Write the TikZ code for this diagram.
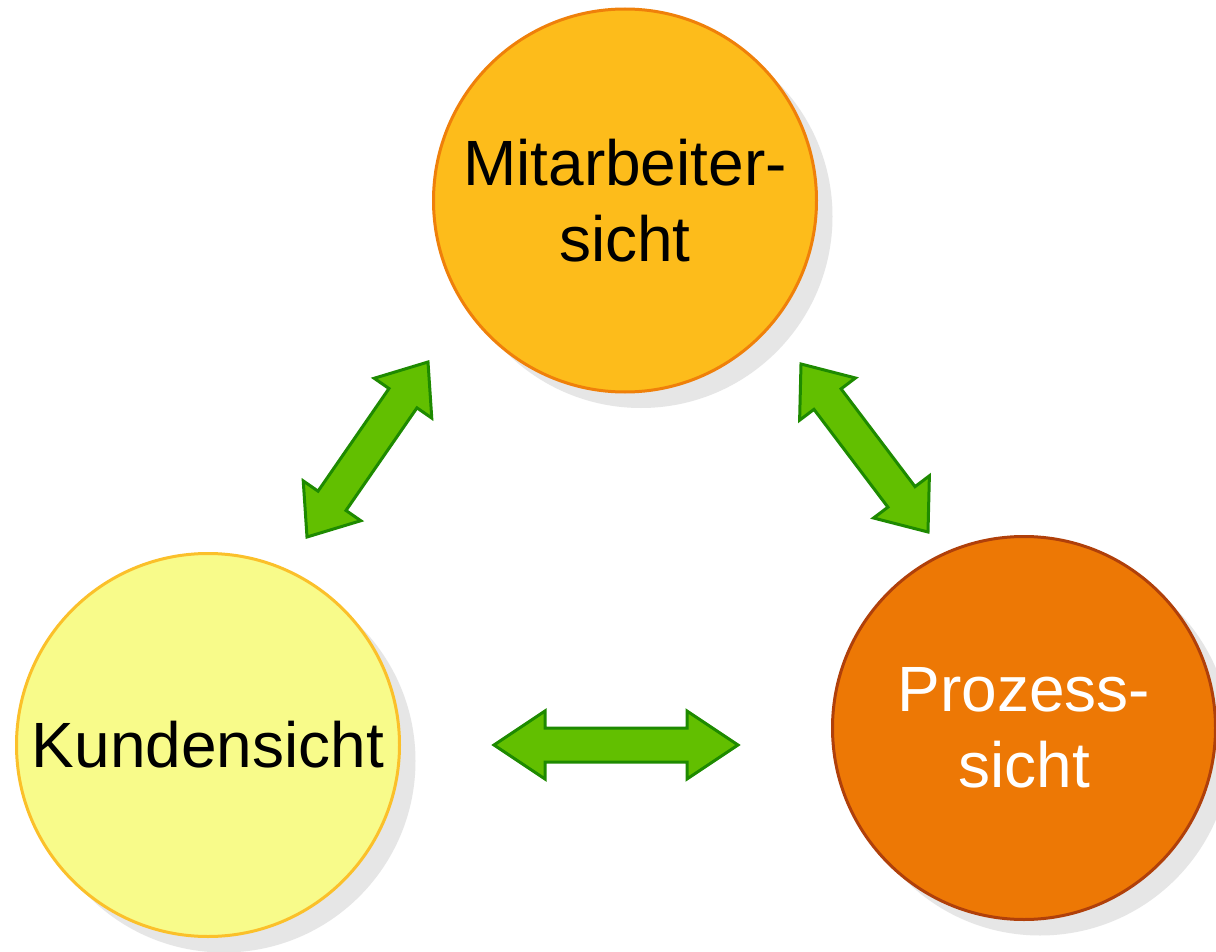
\documentclass[tikz,border=0pt]{standalone}
\usepackage{fontspec}
\setmainfont{Liberation Sans}
\usetikzlibrary{calc,shadows}
\definecolor{mitfill}{HTML}{FDBC1B}
\definecolor{mitline}{HTML}{EF800A}
\definecolor{kunfill}{HTML}{F8FB8A}
\definecolor{kunline}{HTML}{FBC02A}
\definecolor{profill}{HTML}{ED7805}
\definecolor{proline}{HTML}{B0400A}
\definecolor{arrfill}{HTML}{62BF00}
\definecolor{arrline}{HTML}{1E8A00}
\definecolor{shade}{HTML}{E6E6E6}
\tikzset{
  view/.style={circle, minimum size=383pt, inner sep=0pt, line width=3pt, align=center,
    font=\fontsize{64}{76}\selectfont,
    drop shadow={shadow xshift=16pt, shadow yshift=-16pt, fill=shade, opacity=1}},
  dbl/.style={fill=arrfill, draw=arrline, line width=3pt, line join=miter}
}
\newcommand\dblarr[5]{%
  \draw[dbl] (#1)
    -- ($(#1)!#3!(#2)!#4!90:(#2)$)
    -- ($(#1)!#3!(#2)!#5!90:(#2)$)
    -- ($(#2)!#3!(#1)!#5!-90:(#1)$)
    -- ($(#2)!#3!(#1)!#4!-90:(#1)$)
    -- (#2)
    -- ($(#2)!#3!(#1)!#4!90:(#1)$)
    -- ($(#2)!#3!(#1)!#5!90:(#1)$)
    -- ($(#1)!#3!(#2)!#5!-90:(#2)$)
    -- ($(#1)!#3!(#2)!#4!-90:(#2)$)
    -- cycle;}
\begin{document}
\begin{tikzpicture}[x=1pt,y=-1pt]
\fill[white] (0,0) rectangle (1216,952);
\useasboundingbox (0,0) rectangle (1216,952);
\node[view, fill=mitfill, draw=mitline] (mit) at (625,200.5) {Mitarbeiter-\\sicht};
\node[view, fill=kunfill, draw=kunline] (kun) at (208,745) {Kundensicht};
\node[view, fill=profill, draw=proline, text=white] (pro) at (1024,728) {Prozess-\\sicht};
\coordinate (a1) at (428,362);
\coordinate (b1) at (307,537);
\coordinate (a2) at (801,364);
\coordinate (b2) at (928,532);
\coordinate (a3) at (494,745);
\coordinate (b3) at (738,745);
\dblarr{a1}{b1}{44pt}{35pt}{17pt}
\dblarr{a2}{b2}{44pt}{35pt}{17pt}
\dblarr{a3}{b3}{51pt}{34pt}{17pt}
\end{tikzpicture}
\end{document}
